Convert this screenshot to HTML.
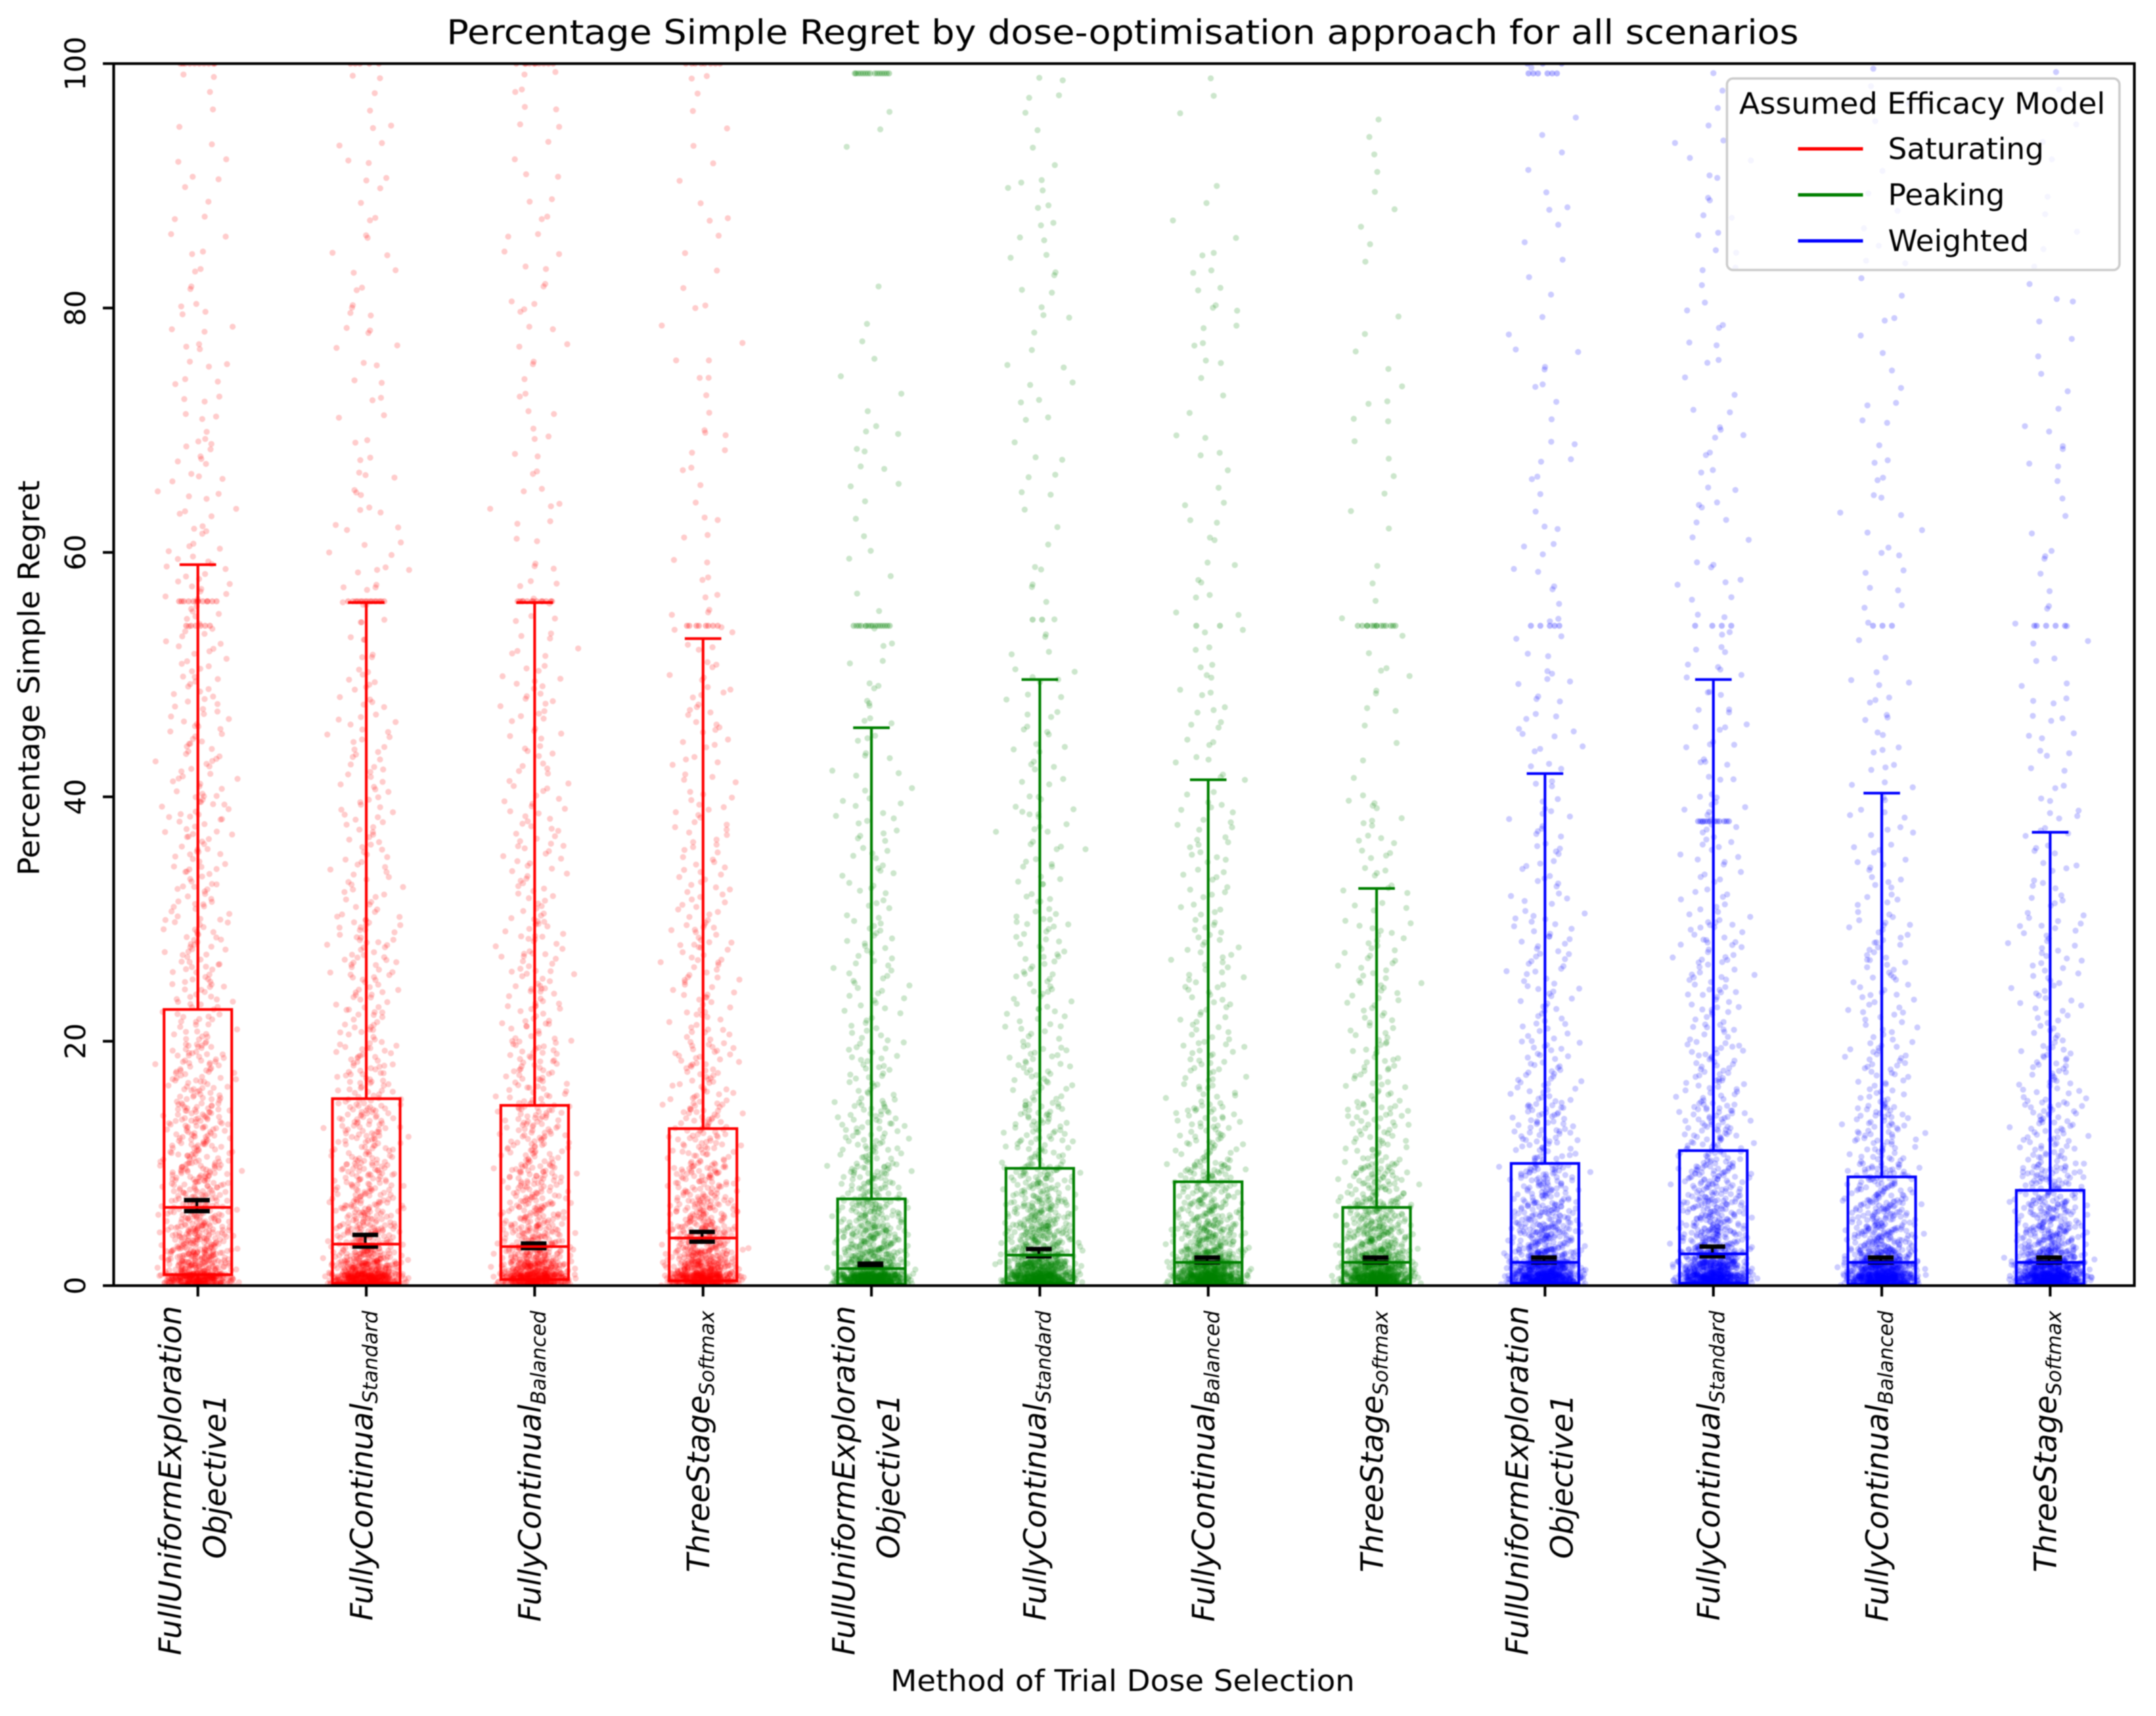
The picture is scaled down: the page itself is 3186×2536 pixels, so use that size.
<!DOCTYPE html>
<html lang="en">
<head>
<meta charset="utf-8">
<title>Percentage Simple Regret by dose-optimisation approach</title>
<style>
html,body{margin:0;padding:0;background:#fff}
svg{display:block;font-family:"DejaVu Sans","Liberation Sans",sans-serif;fill:#000;filter:blur(0.9px)}
</style>
</head>
<body>
<svg id="chart" xmlns="http://www.w3.org/2000/svg" width="3186" height="2536" viewBox="0 0 3186 2536">
  <defs><clipPath id="plot-clip"><rect x="168" y="94" width="2986" height="1806"></rect></clipPath></defs>
  <rect width="3186" height="2536" fill="#fff"></rect>
  <text x="1659" y="65" font-size="50" text-anchor="middle" textLength="1998" lengthAdjust="spacingAndGlyphs">Percentage Simple Regret by dose-optimisation approach for all scenarios</text>
  <g id="dots" clip-path="url(#plot-clip)"></g>
  <g id="boxes"></g>
  <g id="axes"></g>
  <text transform="translate(58,1002) rotate(-90)" font-size="44" text-anchor="middle" textLength="584" lengthAdjust="spacingAndGlyphs">Percentage Simple Regret</text>
  <text x="1659" y="2499" font-size="44" text-anchor="middle" textLength="686" lengthAdjust="spacingAndGlyphs">Method of Trial Dose Selection</text>
  <g>
    <rect x="2552" y="116" width="580" height="283" rx="9" fill="#fff" fill-opacity="0.8" stroke="#ccc" stroke-width="3.5"></rect>
    <text x="2570" y="168" font-size="44" textLength="541" lengthAdjust="spacingAndGlyphs">Assumed Efficacy Model</text>
    <g>
      <line x1="2657" x2="2753" y1="220" y2="220" stroke="#f00" stroke-width="5"></line>
      <text x="2790" y="235" font-size="44">Saturating</text>
    </g>
    <g>
      <line x1="2657" x2="2753" y1="288" y2="288" stroke="#008000" stroke-width="5"></line>
      <text x="2790" y="303" font-size="44">Peaking</text>
    </g>
    <g>
      <line x1="2657" x2="2753" y1="356" y2="356" stroke="#00f" stroke-width="5"></line>
      <text x="2790" y="371" font-size="44">Weighted</text>
    </g>
  </g>
</svg>
<script>
// ---- chart data ----
const methodNames = ['FullUniformExploration','FullyContinual','FullyContinual','ThreeStage','FullUniformExploration','FullyContinual','FullyContinual','ThreeStage','FullUniformExploration','FullyContinual','FullyContinual','ThreeStage'];
const methodSubs = ['Objective1','Standard','Balanced','Softmax','Objective1','Standard','Balanced','Softmax','Objective1','Standard','Balanced','Softmax'];
const modelColors = ['#ff0000','#ff0000','#ff0000','#ff0000','#008000','#008000','#008000','#008000','#0000ff','#0000ff','#0000ff','#0000ff'];
const yTickValues = [0,20,40,60,80,100];
const whiskerHigh = [59,55.9,55.9,52.95,45.65,49.6,41.4,32.5,41.9,49.6,40.3,37.1];
const whiskerLow = [0,0,0,0,0,0,0,0,0,0,0,0];
const q3 = [22.6,15.3,14.75,12.85,7.1,9.6,8.5,6.4,10,11.05,8.9,7.8];
const medians = [6.4,3.4,3.2,3.9,1.4,2.5,1.9,1.9,1.9,2.6,1.9,1.9];
const q1 = [0.9,0.2,0.5,0.4,0.1,0.2,0.1,0.1,0.2,0.2,0.1,0.1];
const meanCiLow = [6.1,3.2,3.07,3.6,1.5,2.4,1.9,1.9,1.9,2.4,1.9,1.9];
const meanCiHigh = [7.0,4.15,3.45,4.4,1.8,3.0,2.3,2.3,2.3,3.2,2.3,2.3];

// Estimated number of scatter points in each value band, per method.
const bandEdges = [0,1,2,3,5,7,10,15,20,30,40,50,60,70,80,90,100];
const countsSaturatingUniform = [300,85,75,105,75,90,115,75,85,70,55,42,30,20,14,10];
const countsSaturatingStandard = [390,130,70,90,65,75,95,60,80,50,38,25,18,15,14,12];
const countsSaturatingBalanced = [360,140,70,85,65,75,90,55,75,50,38,22,15,14,14,12];
const countsSaturatingSoftmax = [370,130,80,105,75,80,80,50,65,45,32,18,12,10,8,8];
const countsPeakingUniform = [520,130,75,110,75,70,65,35,48,35,20,10,12,7,1,3];
const countsPeakingStandard = [420,190,90,120,85,85,70,40,55,38,25,12,10,12,15,10];
const countsPeakingBalanced = [450,210,95,110,75,80,60,35,50,35,22,14,12,10,12,3];
const countsPeakingSoftmax = [450,210,100,120,85,75,55,35,50,28,10,8,6,9,5,4];
const countsWeightedUniform = [430,220,90,110,75,85,70,40,55,35,22,14,12,10,8,5];
const countsWeightedStandard = [400,190,100,110,80,90,85,50,70,40,25,18,15,13,12,10];
const countsWeightedBalanced = [440,220,95,105,75,80,70,40,55,32,20,12,12,10,8,5];
const countsWeightedSoftmax = [450,220,95,105,75,75,65,40,50,30,18,12,10,7,8,6];
const bandCounts = [countsSaturatingUniform,countsSaturatingStandard,countsSaturatingBalanced,countsSaturatingSoftmax,countsPeakingUniform,countsPeakingStandard,countsPeakingBalanced,countsPeakingSoftmax,countsWeightedUniform,countsWeightedStandard,countsWeightedBalanced,countsWeightedSoftmax];

// Repeated values that show as tight horizontal rows: [method index, value, count].
const repeatedValues = [[0,56,12],[0,54,6],[0,100,10],[1,56,15],[1,100,5],[2,56,12],[2,100,10],[3,54,8],[3,100,8],[4,54,15],[4,99.2,15],[5,54.5,2],[6,54,2],[7,54,14],[8,54,5],[8,99.2,6],[8,100,3],[9,38,12],[9,54,4],[10,54,3],[11,54,5]];

// ---- axis functions ----
const plotLeft = 168, plotRight = 3154, plotTop = 94, plotBottom = 1900;
function xScale(i){ return plotLeft + (i + 0.5) * (plotRight - plotLeft) / methodNames.length; }
function yScale(v){ return plotBottom - v / 100 * (plotBottom - plotTop); }

const NS = 'http://www.w3.org/2000/svg';
function make(tag, attrs, parent){
  const el = document.createElementNS(NS, tag);
  for (const k in attrs) el.setAttribute(k, attrs[k]);
  parent.appendChild(el);
  return el;
}
// Deterministic, evenly spread horizontal strip-plot jitter (radical inverse sequence).
function radical(i, base){
  let f = 1, r = 0;
  while (i > 0){ f /= base; r += f * (i % base); i = Math.floor(i / base); }
  return r;
}
function jitter(n){ return (radical(n,2) + radical(n,3) + radical(n,5) - 1.5) * 48; }

const dotsLayer = document.getElementById('dots');
const boxesLayer = document.getElementById('boxes');
const axesLayer = document.getElementById('axes');

// ---- scatter clouds ----
let seq = 1;
bandCounts.forEach(function(counts, c){
  const group = make('g', {fill: modelColors[c], 'fill-opacity': 0.2}, dotsLayer);
  
  
  counts.forEach(function(count, b){
    const lo = bandEdges[b], hi = bandEdges[b + 1];
    for (let k = 0; k < count; k++){
      seq++;
      const dot = make('circle', {cx: xScale(c) + jitter(seq), cy: yScale(lo + (hi - lo) * radical(seq, 7)), r: 4.5}, group);
      
      
    }
  });
});
repeatedValues.forEach(function(row){
  const c = row[0], v = row[1], n = row[2];
  for (let k = 0; k < n; k++){
    seq++;
    const dot = make('circle', {cx: xScale(c) + (radical(seq, 2) - 0.5) * 56, cy: yScale(v), r: 4.5, fill: modelColors[c], 'fill-opacity': 0.28}, dotsLayer);
    
    
  }
});

// ---- box plots ----
methodNames.forEach(function(name, c){
  const x = xScale(c), col = modelColors[c], halfBox = 50, halfCap = 27, halfCi = 19, ciX = x - 1.5;
  const g = make('g', {stroke: col, 'stroke-width': 4, fill: 'none'}, boxesLayer);
  
  

  const whiskerUp = make('line', {x1: x, x2: x, y1: yScale(q3[c]), y2: yScale(whiskerHigh[c])}, g);
  
  

  const whiskerDown = make('line', {x1: x, x2: x, y1: yScale(q1[c]), y2: yScale(whiskerLow[c])}, g);
  
  

  const capUp = make('line', {x1: x - halfCap, x2: x + halfCap, y1: yScale(whiskerHigh[c]), y2: yScale(whiskerHigh[c])}, g);
  
  

  const box = make('rect', {x: x - halfBox, width: halfBox * 2, y: yScale(q3[c]), height: yScale(q1[c]) - yScale(q3[c])}, g);
  
  

  const ci = make('g', {stroke: '#000', 'stroke-width': 6.5}, g);
  
  
  make('line', {x1: ciX, x2: ciX, y1: yScale(meanCiLow[c]), y2: yScale(meanCiHigh[c]), 'stroke-width': 4}, ci);
  make('line', {x1: ciX - halfCi, x2: ciX + halfCi, y1: yScale(meanCiLow[c]), y2: yScale(meanCiLow[c])}, ci);
  make('line', {x1: ciX - halfCi, x2: ciX + halfCi, y1: yScale(meanCiHigh[c]), y2: yScale(meanCiHigh[c])}, ci);

  const med = make('line', {x1: x - halfBox, x2: x + halfBox, y1: yScale(medians[c]), y2: yScale(medians[c])}, g);
  
  
});

// ---- axes ----
const frame = make('rect', {x: plotLeft, y: plotTop, width: plotRight - plotLeft, height: plotBottom - plotTop, fill: 'none', stroke: '#000', 'stroke-width': 4}, axesLayer);



yTickValues.forEach(function(v){
  const tick = make('line', {x1: plotLeft - 16, x2: plotLeft, y1: yScale(v), y2: yScale(v), stroke: '#000', 'stroke-width': 4}, axesLayer);
  
  
  const label = make('text', {transform: 'translate(126,' + yScale(v) + ') rotate(-90)', 'font-size': 42, 'text-anchor': 'middle'}, axesLayer);
  
  
  label.textContent = v;
});

methodNames.forEach(function(name, c){
  const x = xScale(c);
  const tick = make('line', {x1: x, x2: x, y1: plotBottom, y2: plotBottom + 16, stroke: '#000', 'stroke-width': 4}, axesLayer);
  
  

  const sub = methodSubs[c];
  if (sub === 'Objective1'){
    const label = make('g', {}, axesLayer);
    
    
    const line1 = make('text', {transform: 'translate(' + (x - 25) + ',2188) rotate(-90)', 'font-size': 45.3, 'font-style': 'italic', 'text-anchor': 'middle'}, label);
    
    
    line1.textContent = name;
    const line2 = make('text', {transform: 'translate(' + (x + 41) + ',2182) rotate(-90)', 'font-size': 45.3, 'font-style': 'italic', 'text-anchor': 'middle'}, label);
    
    
    line2.textContent = sub;
  } else {
    const label = make('text', {transform: 'translate(' + (x + 9) + ',1937) rotate(-90)', 'font-size': 45.3, 'font-style': 'italic', 'text-anchor': 'end'}, axesLayer);
    
    
    const main = make('tspan', {}, label);
    main.textContent = name;
    const subscript = make('tspan', {'font-size': 30, dy: 7}, label);
    subscript.textContent = sub;
  }
});
</script>
</body>
</html>
